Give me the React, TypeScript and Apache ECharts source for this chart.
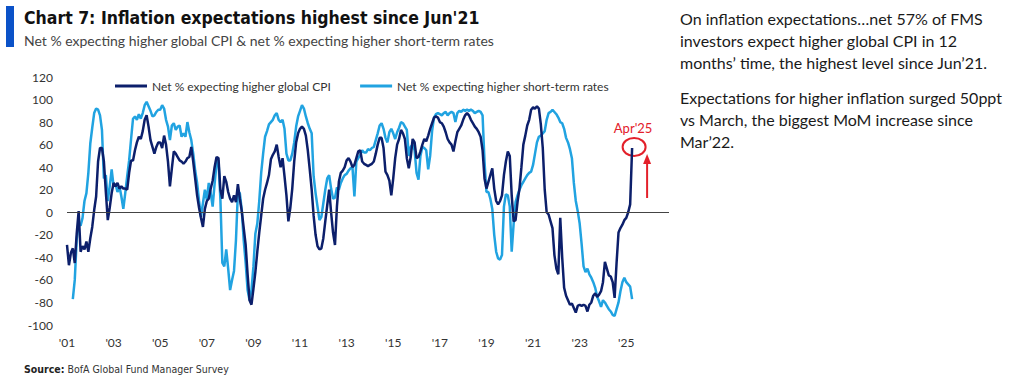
import React, { useEffect, useRef } from "react";
import * as echarts from "echarts";

// ---------- data ----------
const FIRST_YEAR = 2001;
const AXIS_LAST_YEAR = 2026;
const AXIS_LAST_MONTH = 11;
// Net % expecting higher global CPI, monthly from Jan 2001 to Apr 2025
const CPI = [
  -29, -47, -36, -32, -45, -19, 1, -35, -30, -33,
  -26, -35, -23, -13, 2, 14, 45, 57, 57, 45,
  18, -7, 4, 17, 26, 23, 26, 21, 23, 21,
  21, 20, 35, 46, 46, 55, 62, 67, 65, 72,
  82, 86, 76, 64, 58, 52, 58, 62, 62, 57,
  68, 60, 45, 23, 39, 54, 52, 49, 46, 45,
  43, 45, 48, 49, 58, 45, 30, 15, 4, -5,
  -13, 3, 10, 12, 21, 28, 40, 49, 48, 20,
  12, 32, 27, 18, 12, 9, 15, 9, 25, 12,
  1, -14, -29, -55, -78, -82, -68, -53, -35, -18,
  -3, 12, 20, 26, 33, 47, 51, 54, 60, 49,
  40, 48, 32, 15, -8, 4, 21, 45, 62, 70,
  74, 76, 74, 68, 55, 38, 20, -3, -20, -30,
  -33, -32, -23, -8, 6, 20, 0, -18, -29, 5,
  27, 35, 37, 40, 46, 48, 45, 40, 42, 48,
  54, 55, 45, 43, 42, 41, 42, 43, 45, 52,
  60, 66, 66, 57, 36, 33, 28, 15, 30, 48,
  60, 65, 73, 70, 65, 48, 39, 49, 65, 62,
  48, 49, 54, 60, 65, 63, 68, 74, 79, 84,
  85, 84, 80, 79, 76, 71, 65, 62, 60, 54,
  63, 71, 74, 77, 82, 86, 88, 86, 82, 79,
  76, 74, 71, 67, 55, 30, 21, 27, 33, 39,
  21, 10, 7, 10, 15, 33, 45, 54, 50, 15,
  -8, -7, 9, 21, 40, 60, 68, 77, 82, 91,
  93, 92, 94, 92, 78, 57, 20, 0, -2, -8,
  -14, -38, -50, -55, -5, -40, -67, -74, -78, -82,
  -81, -85, -89, -83, -82, -83, -82, -83, -88, -82,
  -80, -74, -72, -75, -73, -70, -62, -44, -50, -56,
  -57, -62, -76, -45, -18, -14, -11, -7, -5, 0,
  7, 57,
];
// Net % expecting higher short-term rates, monthly from Apr 2001 to Apr 2025
const RATES_OFFSET = 3; // months after Jan 2001
const RATES = [
  -77, -60, -24, -10, -12, -5, 10,
  17, 35, 61, 75, 88, 92, 91, 86, 73, 30,
  33, 10, 23, 38, 23, 25, 18, 23, 14, 3,
  17, 32, 46, 65, 83, 85, 82, 87, 83, 88,
  95, 98, 94, 90, 85, 86, 89, 91, 91, 95,
  92, 82, 76, 64, 77, 79, 73, 76, 77, 67,
  70, 67, 80, 71, 64, 52, 37, 26, 10, -4,
  8, 20, 11, 26, 17, 5, 25, 43, 46, 11,
  -45, -48, -33, -50, -69, -60, -52, -25, 18, 17,
  2, -25, -45, -69, -78, -69, -48, -19, -10, 10,
  35, 52, 67, 72, 78, 80, 82, 86, 88, 82,
  80, 82, 74, 52, 46, 46, 52, 62, 76, 85,
  90, 95, 92, 85, 79, 74, 70, 32, 17, 5,
  -7, -4, 8, 20, 30, 33, 21, 12, 13, 22,
  20, 26, 30, 33, 34, 37, 39, 40, 14, 45,
  48, 51, 55, 53, 53, 56, 55, 57, 58, 64,
  70, 77, 79, 74, 66, 62, 71, 74, 70, 65,
  71, 75, 80, 79, 76, 73, 50, 58, 60, 55,
  35, 29, 50, 58, 57, 55, 38, 50, 72, 84,
  87, 88, 87, 86, 88, 89, 86, 88, 89, 88,
  80, 88, 90, 89, 91, 90, 91, 90, 91, 90,
  88, 89, 90, 89, 86, 45, 18, 18, 12, 3,
  -20, -35, -41, -42, -38, 5, 16, 15, 5, -35,
  -10, 9, 15, 20, 24, 27, 30, 33, 35, 36,
  42, 52, 62, 67, 68, 70, 72, 82, 88, 89,
  91, 89, 87, 84, 80, 79, 74, 66, 62, 56,
  48, 26, 10, 1, -10, -28, -48, -53, -50, -55,
  -58, -62, -67, -75, -79, -84, -78, -80, -83, -86,
  -88, -91, -92, -86, -80, -70, -62, -58, -62, -64,
  -66, -77,
];
const Y_MIN = -100;
const Y_MAX = 120;
const Y_STEP = 20;

const SERIES_NAMES = [
  "Net % expecting higher global CPI",
  "Net % expecting higher short-term rates",
];
const TITLE = "Chart 7: Inflation expectations highest since Jun'21";
const SUBTITLE =
  "Net % expecting higher global CPI & net % expecting higher short-term rates";
const SOURCE_LABEL = "Source:";
const SOURCE_TEXT = " BofA Global Fund Manager Survey";
const NOTE_1 = [
  "On inflation expectations…net 57% of FMS",
  "investors expect higher global CPI in 12",
  "months’ time, the highest level since Jun’21.",
];
const NOTE_2 = [
  "Expectations for higher inflation surged 50ppt",
  "vs March, the biggest MoM increase since",
  "Mar’22.",
];
const CALLOUT = "Apr'25";

// ---------- helpers ----------
const MONTHS: string[] = [];
for (let y = FIRST_YEAR; y <= AXIS_LAST_YEAR; y++) {
  for (let m = 1; m <= 12; m++) {
    if (y === AXIS_LAST_YEAR && m > AXIS_LAST_MONTH) break;
    MONTHS.push(`${y}-${m < 10 ? "0" + m : m}`);
  }
}

const NAVY = "#0c1f6b";
const SKY = "#21a3e1";
const RED = "#e3202a";
const FONT = "Lato, 'Open Sans', sans-serif";
const NARROW = "'Liberation Sans Narrow', 'DejaVu Sans Condensed', Lato, sans-serif";

export default function App() {
  const ref = useRef<HTMLDivElement>(null);

  useEffect(() => {
    if (!ref.current) return;
    const chart = echarts.init(ref.current, undefined, { renderer: "svg" });

    const ratesData: (number | null)[] = [];
    for (let i = 0; i < RATES_OFFSET; i++) ratesData.push(null);
    RATES.forEach((v) => ratesData.push(v));

    chart.setOption({
      animation: false,
      backgroundColor: "#ffffff",
      textStyle: { fontFamily: FONT },
      grid: { left: 67, right: 355, top: 77, bottom: 54, containLabel: false },
      legend: {
        left: 110,
        top: 75,
        itemWidth: 32,
        itemHeight: 14,
        itemGap: 29,
        icon: "path://M0,6 L32,6 L32,9 L0,9 Z",
        textStyle: { color: "#333", fontSize: 12, fontFamily: FONT },
        data: SERIES_NAMES,
      },
      xAxis: {
        type: "category",
        data: MONTHS,
        boundaryGap: false,
        axisLine: { show: false },
        axisTick: { show: false },
        splitLine: { show: false },
        axisLabel: {
          interval: (_i: number, v: string) =>
            v.slice(5) === "01" && parseInt(v.slice(0, 4), 10) % 2 === 1,
          formatter: (v: string) => "'" + v.slice(2, 4),
          color: "#333",
          fontSize: 12,
          fontFamily: FONT,
          margin: 11,
        },
      },
      yAxis: {
        type: "value",
        min: Y_MIN,
        max: Y_MAX,
        interval: Y_STEP,
        axisLine: { show: false },
        axisTick: { show: false },
        splitLine: { show: false },
        axisLabel: { color: "#333", fontSize: 12, fontFamily: FONT, margin: 14 },
      },
      series: [
        {
          name: SERIES_NAMES[0],
          type: "line",
          data: CPI,
          symbol: "none",
          z: 3,
          lineStyle: { color: NAVY, width: 2.5 },
          itemStyle: { color: NAVY },
          markLine: {
            silent: true,
            symbol: ["none", "none"],
            label: { show: false },
            lineStyle: { color: "#444", width: 1, type: "solid" },
            data: [{ yAxis: 0 }],
          },
        },
        {
          name: SERIES_NAMES[1],
          type: "line",
          data: ratesData,
          symbol: "none",
          z: 2,
          lineStyle: { color: SKY, width: 2.5 },
          itemStyle: { color: SKY },
        },
      ],
    });

    const lastIdx = CPI.length - 1;
    const p = chart.convertToPixel({ xAxisIndex: 0, yAxisIndex: 0 }, [
      lastIdx,
      CPI[lastIdx],
    ]) as number[];
    const px = p[0];
    const py = p[1];

    chart.setOption({
      graphic: [
        { type: "rect", shape: { x: 6, y: 6, width: 8, height: 41 }, style: { fill: "#0b52c8" } },
        {
          type: "text",
          x: 24,
          y: 18,
          style: {
            text: TITLE,
            fill: "#111",
            font: `bold 17.5px ${NARROW}`,
            verticalAlign: "middle",
          },
        },
        {
          type: "text",
          x: 24,
          y: 40,
          style: {
            text: SUBTITLE,
            fill: "#444",
            font: `14px ${FONT}`,
            verticalAlign: "middle",
          },
        },
        {
          type: "text",
          x: 24,
          y: 369,
          style: {
            text: `{b|${SOURCE_LABEL}}{n|${SOURCE_TEXT}}`,
            verticalAlign: "middle",
            rich: {
              b: { fontWeight: "bold", fontSize: 10.5, fontFamily: NARROW, fill: "#222" },
              n: { fontSize: 10.5, fontFamily: NARROW, fill: "#333" },
            },
          },
        },
        {
          type: "text",
          x: 680,
          y: 7,
          style: {
            text: NOTE_1.join("\n"),
            fill: "#1a1a1a",
            font: `16px ${FONT}`,
            lineHeight: 22,
            verticalAlign: "top",
          },
        },
        {
          type: "text",
          x: 680,
          y: 86,
          style: {
            text: NOTE_2.join("\n"),
            fill: "#1a1a1a",
            font: `16px ${FONT}`,
            lineHeight: 22,
            verticalAlign: "top",
          },
        },
        {
          type: "text",
          x: px + 1,
          y: py - 20,
          style: {
            text: CALLOUT,
            fill: RED,
            font: `13px ${FONT}`,
            align: "center",
            verticalAlign: "middle",
          },
        },
        {
          type: "ellipse",
          shape: { cx: px + 2, cy: py - 1, rx: 11.5, ry: 9 },
          style: { fill: "none", stroke: RED, lineWidth: 2 },
        },
        {
          type: "line",
          shape: { x1: px + 15, y1: py + 50, x2: px + 15, y2: py + 14 },
          style: { stroke: RED, lineWidth: 2 },
        },
        {
          type: "polygon",
          shape: {
            points: [
              [px + 15, py + 6],
              [px + 11, py + 16],
              [px + 19, py + 16],
            ],
          },
          style: { fill: RED },
        },
      ],
    });

    return () => chart.dispose();
  }, []);

  return (
    <div
      ref={ref}
      style={{ position: "fixed", left: 0, top: 0, width: 1024, height: 379, background: "#fff" }}
    />
  );
}
